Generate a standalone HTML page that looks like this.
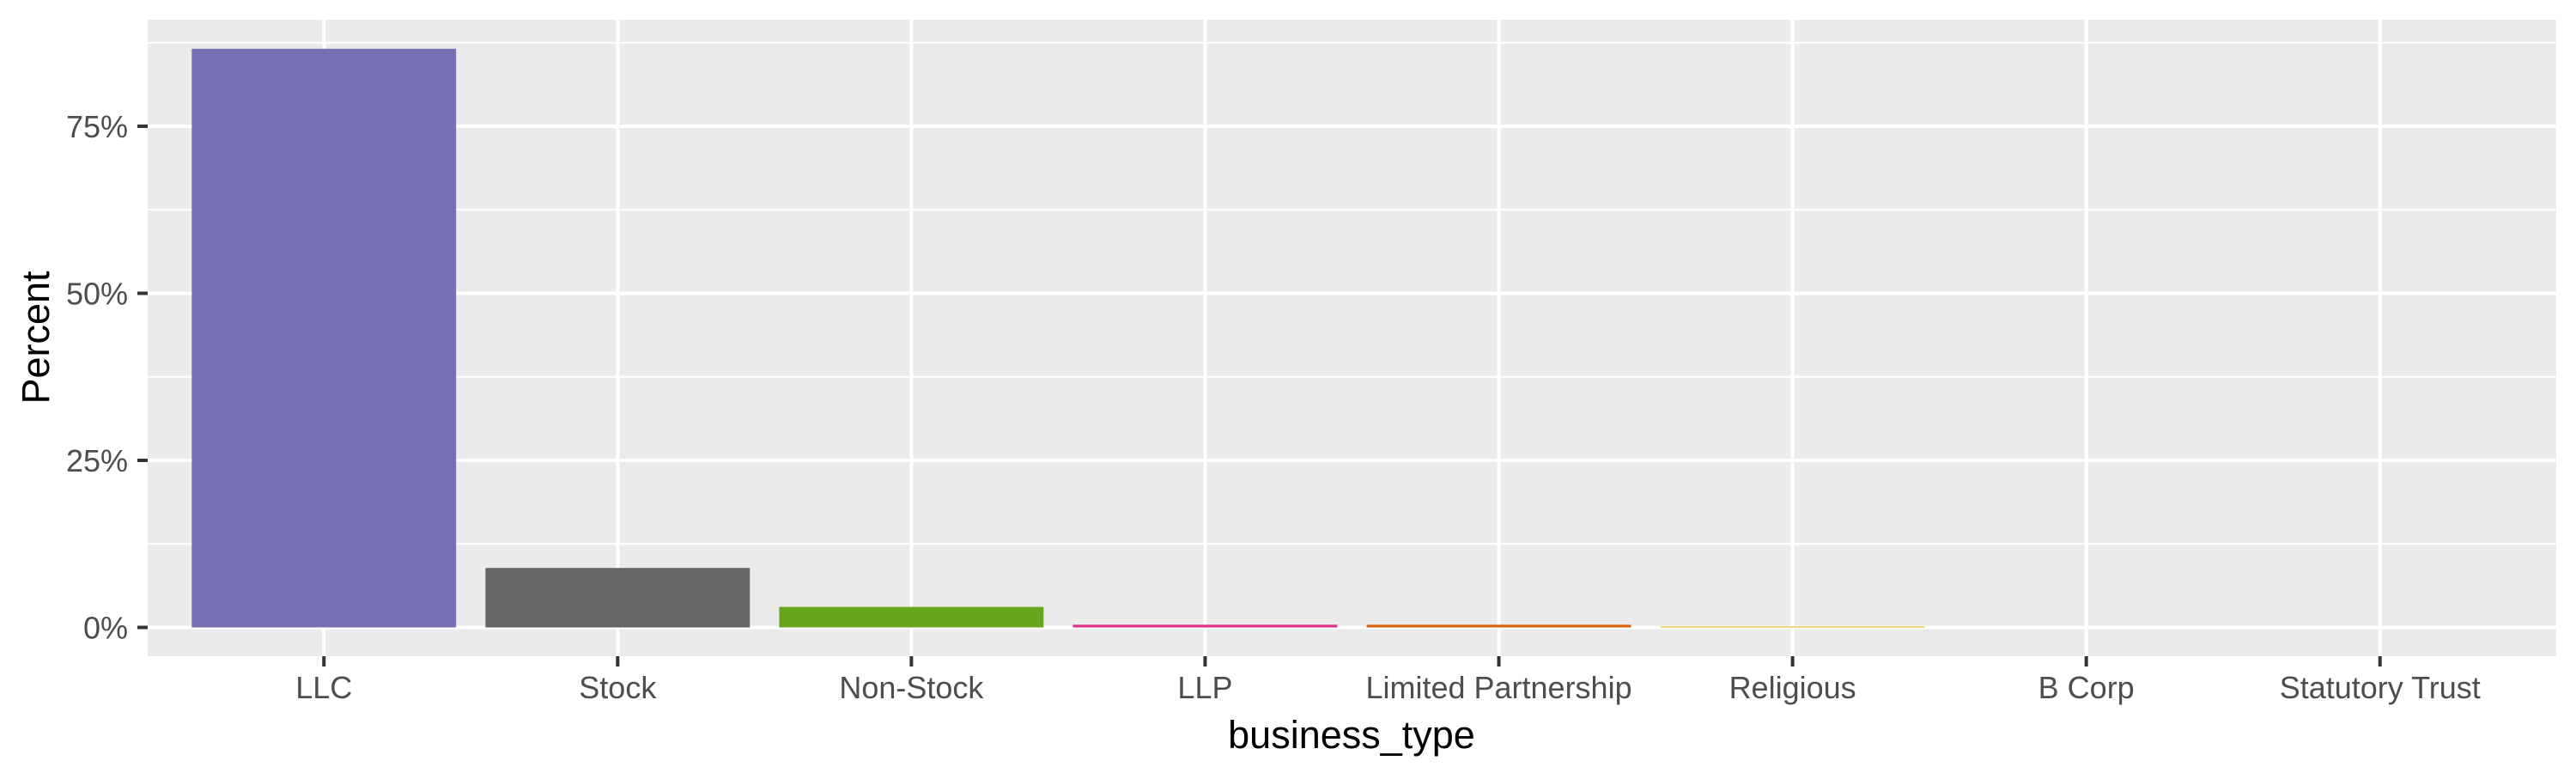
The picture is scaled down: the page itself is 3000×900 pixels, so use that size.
<!DOCTYPE html>
<html><head><meta charset="utf-8"><style>
html,body{margin:0;padding:0;background:#fff;}
svg{display:block;font-family:"Liberation Sans",Arial,sans-serif;}
</style></head><body>
<svg id="chart" width="3000" height="900" viewBox="0 0 3000 900">
<rect x="0" y="0" width="3000" height="900" fill="#fff"/>
<rect x="172" y="23" width="2805" height="741" fill="#ebebeb"/>
<g id="grid"></g><g id="bars"></g><g id="axes"></g>
<text x="1574" y="871" text-anchor="middle" font-size="45" fill="#000">business_type</text>
<text transform="translate(57,393) rotate(-90)" text-anchor="middle" font-size="45" fill="#000">Percent</text>
</svg>
<script>
const categories = ["LLC","Stock","Non-Stock","LLP","Limited Partnership","Religious","B Corp","Statutory Trust"];
const values = [86.6, 8.9, 3.07, 0.4, 0.4, 0.13, 0.0, 0.0];
const colors = ["#7570b3","#666666","#66a61e","#e7298a","#d95f02","#e6ab02","#a6761d","#1b9e77"];
const yTicks = [0, 25, 50, 75];
const yTickLabels = ["0%","25%","50%","75%"];
const NS="http://www.w3.org/2000/svg";
const L=172,R=2977,T=23,B=764,Y0=730.5,PX=(730.5-147)/75;
const band=(R-L)/(categories.length+0.2);
function x(i){return L+band*(0.6+i);}
function y(v){return Y0-v*PX;}
function mk(tag,attrs,parent){const e=document.createElementNS(NS,tag);for(const k in attrs)e.setAttribute(k,attrs[k]);parent.appendChild(e);return e;}
const grid=document.getElementById('grid'),bars=document.getElementById('bars'),axes=document.getElementById('axes');
const step=yTicks[1]-yTicks[0];
for(let v=yTicks[0]+step/2; y(v)>T; v+=step){
  const g=mk('line',{x1:L,x2:R,y1:y(v),y2:y(v),stroke:'#fff','stroke-width':2},grid);
  
  
}
yTicks.forEach((v,i)=>{
  const g=mk('line',{x1:L,x2:R,y1:y(v),y2:y(v),stroke:'#fff','stroke-width':4},grid);
  
  
  const t=mk('line',{x1:L-12,x2:L,y1:y(v),y2:y(v),stroke:'#333','stroke-width':4},axes);
  
  
  const lb=mk('text',{x:149,y:y(v)+13,'text-anchor':'end','font-size':36,fill:'#4d4d4d'},axes);
  lb.textContent=yTickLabels[i];
  
  
});
categories.forEach((c,i)=>{
  const cx=x(i);
  const g=mk('line',{x1:cx,x2:cx,y1:T,y2:B,stroke:'#fff','stroke-width':4},grid);
  
  
  const w=band*0.9;
  const r=mk('rect',{x:cx-w/2,y:y(values[i]),width:w,height:Math.max(0,Y0-y(values[i])),fill:colors[i]},bars);
  
  
  const t=mk('line',{x1:cx,x2:cx,y1:B,y2:B+12,stroke:'#333','stroke-width':4},axes);
  
  
  const lb=mk('text',{x:cx,y:813,'text-anchor':'middle','font-size':36,fill:'#4d4d4d'},axes);
  lb.textContent=c;
  
  
});
</script>
</body></html>
